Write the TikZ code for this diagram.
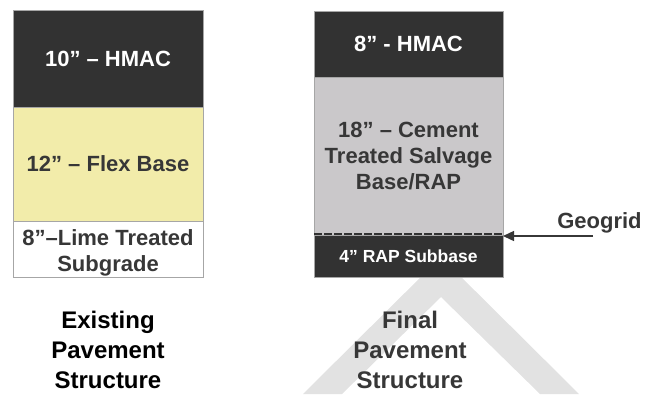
\documentclass[tikz,border=0pt]{standalone}
\usepackage{fontspec}
\setmainfont{Liberation Sans}
\usetikzlibrary{positioning,arrows.meta}
\definecolor{asphalt}{RGB}{50,50,50}
\definecolor{flexbase}{RGB}{242,236,170}
\definecolor{cement}{RGB}{202,200,202}
\definecolor{wmgray}{RGB}{226,226,226}
\definecolor{ink}{RGB}{55,55,55}

\begin{document}
\begin{tikzpicture}[x=1pt,y=1pt,every node/.style={outer sep=0pt,inner sep=0pt}]

\tikzstyle{layer}=[draw=gray!70,line width=0.6pt,minimum width=190pt,align=center,font=\fontsize{22}{26}\selectfont\bfseries]
\tikzstyle{caption}=[align=center,font=\fontsize{24}{30}\selectfont\bfseries]

\useasboundingbox (0,0) rectangle (645,-394);

% watermark behind the final section
\fill [wmgray] (441,-257) -- (303,-394) -- (342,-394) -- (441,-297) -- (540,-394) -- (579,-394) -- cycle;

\begin{scope}[]
\node (hmacA) [layer,fill=asphalt,text=white,minimum height=97pt,anchor=north] at (108,-10) {10'' -- HMAC};
\node (flex) [layer,fill=flexbase,text=ink,minimum height=114pt,anchor=north] at (hmacA.south) {12'' -- Flex Base};
\node (lime) [layer,fill=white,minimum height=56pt,anchor=north] at (flex.south) {};
\node (limetext) [align=center,text=ink,font=\fontsize{22}{26}\selectfont\bfseries] at ([yshift=-4pt]lime.center) {8''--Lime Treated\\Subgrade};

\node (oldcap) [caption] at (108,-350) {Existing\\Pavement\\Structure};
\end{scope}

\begin{scope}[]
\node (hmacB) [layer,fill=asphalt,text=white,minimum width=189pt,minimum height=66pt,anchor=north] at (408.5,-11) {8'' - HMAC};
\node (ctb) [layer,fill=cement,text=ink,minimum width=189pt,minimum height=158pt,anchor=north] at (hmacB.south) {18'' -- Cement\\Treated Salvage\\Base/RAP};
\node (rap) [layer,fill=asphalt,text=white,minimum width=189pt,minimum height=42pt,anchor=north,font=\fontsize{17.5}{20}\selectfont\bfseries] at (ctb.south) {4'' RAP Subbase};

\draw [asphalt,line width=2pt,dash pattern=on 8pt off 2pt] ([yshift=1pt]rap.north west) -- ([yshift=1pt]rap.north east);

\node (geo) [font=\fontsize{22}{26}\selectfont\bfseries,text=ink] at (599.5,-223) {Geogrid};
\coordinate (geotail) at (593,-236);
\draw [-{Triangle[length=11pt,width=10pt]},ink,line width=1.4pt] (geotail) -- (geotail -| rap.east);

\node (newcap) [caption,text=ink] at (410,-350) {Final\\Pavement\\Structure};
\end{scope}

%\draw[step=10pt,gray,very thin] (0,0) grid (645,-394);

\end{tikzpicture}
\end{document}
